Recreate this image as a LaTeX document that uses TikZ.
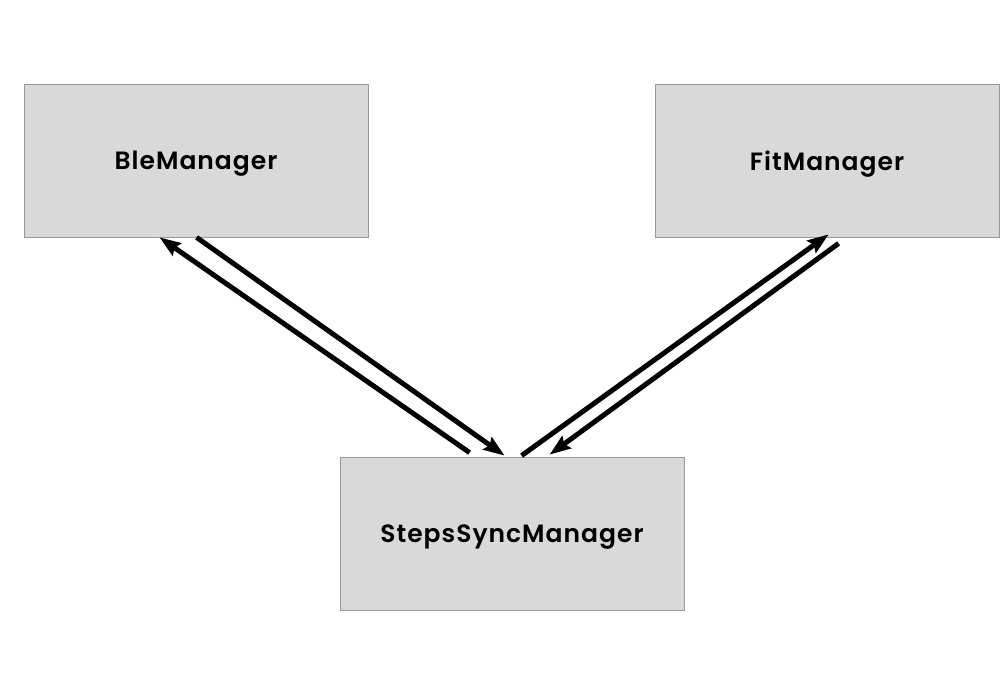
\documentclass[tikz,border=0pt]{standalone}
\usepackage{fontspec}
\setmainfont{Poppins}[UprightFont=* SemiBold,LetterSpace=4]
\usetikzlibrary{arrows.meta,calc}
\begin{document}
\begin{tikzpicture}[x=1pt,y=-1pt,
  box/.style={draw=black!40,line width=0.8pt,fill=black!15,minimum width=344pt,minimum height=153pt,inner sep=0pt,text depth=0pt,font=\fontsize{25}{29}\selectfont},
  conn/.style={line width=5pt,-{Stealth[length=21pt,width=15pt,inset=3pt]}}]
\useasboundingbox (0,0) rectangle (1000,689);
\node[box] (ble) at (196,160.5) {BleManager};
\node[box] (fit) at (827,160.5) {FitManager};
\node[box] (steps) at (512,533.5) {StepsSyncManager};
\draw[conn] ($(steps.north west)+(130,-4)$) -- ($(ble.south west)+(136,0)$);
\draw[conn] ($(ble.south west)+(173,0)$) -- ($(steps.north west)+(165,-1)$);
\draw[conn] ($(steps.north west)+(182,-1)$) -- ($(fit.south west)+(174,-3)$);
\draw[conn] ($(fit.south west)+(184,6)$) -- ($(steps.north west)+(210,-2)$);
\end{tikzpicture}
\end{document}
